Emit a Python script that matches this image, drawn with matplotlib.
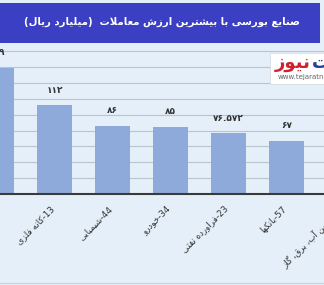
import matplotlib
matplotlib.use("Agg")
import matplotlib.pyplot as plt
from matplotlib.patches import Rectangle
from matplotlib.lines import Line2D

# ---------------- data ----------------
title_text = "صنایع بورسی با بیشترین ارزش معاملات  (میلیارد ریال)"
category_codes = ["27", "13", "44", "34", "23", "57", "40"]
category_names = ["فلزات اساسی", "کانه فلزی", "شیمیایی", "خودرو",
                  "فراورده نفتی", "بانکها", "تامین آب، برق، گاز"]
values = [159, 112, 86, 85, 76.572, 67, 60]
value_labels = ["۱۵۹", "۱۱۲", "۸۶", "۸۵", "۷۶.۵۷۲", "۶۷", "۶۰"]
grid_ticks = [20, 40, 60, 80, 100, 120, 140, 160, 180]

# ---------------- minimal Persian shaping ----------------
AR = {
    'ا': ('\uFE8D', '\uFE8E', None, None),
    'آ': ('\uFE81', '\uFE82', None, None),
    'ب': ('\uFE8F', '\uFE90', '\uFE91', '\uFE92'),
    'پ': ('\uFB56', '\uFB57', '\uFB58', '\uFB59'),
    'ت': ('\uFE95', '\uFE96', '\uFE97', '\uFE98'),
    'ج': ('\uFE9D', '\uFE9E', '\uFE9F', '\uFEA0'),
    'خ': ('\uFEA5', '\uFEA6', '\uFEA7', '\uFEA8'),
    'د': ('\uFEA9', '\uFEAA', None, None),
    'ر': ('\uFEAD', '\uFEAE', None, None),
    'ز': ('\uFEAF', '\uFEB0', None, None),
    'س': ('\uFEB1', '\uFEB2', '\uFEB3', '\uFEB4'),
    'ش': ('\uFEB5', '\uFEB6', '\uFEB7', '\uFEB8'),
    'ص': ('\uFEB9', '\uFEBA', '\uFEBB', '\uFEBC'),
    'ع': ('\uFEC9', '\uFECA', '\uFECB', '\uFECC'),
    'ف': ('\uFED1', '\uFED2', '\uFED3', '\uFED4'),
    'ق': ('\uFED5', '\uFED6', '\uFED7', '\uFED8'),
    'ک': ('\uFB8E', '\uFB8F', '\uFB90', '\uFB91'),
    'گ': ('\uFB92', '\uFB93', '\uFB94', '\uFB95'),
    'ل': ('\uFEDD', '\uFEDE', '\uFEDF', '\uFEE0'),
    'م': ('\uFEE1', '\uFEE2', '\uFEE3', '\uFEE4'),
    'ن': ('\uFEE5', '\uFEE6', '\uFEE7', '\uFEE8'),
    'ه': ('\uFEE9', '\uFEEA', '\uFEEB', '\uFEEC'),
    'و': ('\uFEED', '\uFEEE', None, None),
    'ی': ('\uFEEF', '\uFEF0', '\uFEF3', '\uFEF4'),
}


def _joins_left(c):
    return c in AR and AR[c][2] is not None


def shape(s):
    out = []
    i = 0
    n = len(s)
    while i < n:
        c = s[i]
        if c not in AR:
            out.append(c)
            i += 1
            continue
        prev = s[i - 1] if i > 0 else ''
        pj = _joins_left(prev)
        if c == 'ل' and i + 1 < n and s[i + 1] in 'اآ':
            lig = {'ا': ('\uFEFB', '\uFEFC'), 'آ': ('\uFEF5', '\uFEF6')}[s[i + 1]]
            out.append(lig[1] if pj else lig[0])
            i += 2
            continue
        nxt = s[i + 1] if i + 1 < n else ''
        nj = _joins_left(c) and nxt in AR
        f = AR[c]
        if pj and nj:
            g = f[3]
        elif pj:
            g = f[1]
        elif nj:
            g = f[2]
        else:
            g = f[0]
        out.append(g)
        i += 1
    return ''.join(out)


def rtl(s):
    return shape(s)[::-1].translate(str.maketrans('()', ')('))


plt.rcParams['font.family'] = ['DejaVu Sans']

W, H = 324, 285
DPI = 100
BG = '#e4eff9'
fig = plt.figure(figsize=(W / DPI, H / DPI), dpi=DPI, facecolor=BG)

# banner
fig.patches.append(Rectangle((0, (H - 43) / H), 320 / W, 40 / H,
                             transform=fig.transFigure, facecolor='#3b3fc4',
                             edgecolor='none', zorder=0))
fig.text(162 / W, 1 - 22 / H, rtl(title_text), color='white', fontsize=7.3,
         fontweight='bold', ha='center', va='center')

# axes
axis_y = 194
top_y = 43
ax = fig.add_axes([0, (H - axis_y) / H, 1, (axis_y - top_y) / H])
ax.set_facecolor(BG)
px_per_unit = 0.793
ax.set_ylim(0, (axis_y - top_y) / px_per_unit)
step = 58.0
x0 = -3.5 / step
ax.set_xlim(-x0, -x0 + W / step)

xs = list(range(len(values)))
for y in grid_ticks:
    ax.axhline(y, color='#b9c4cf', lw=0.8, zorder=1)
ax.bar(xs, values, width=0.595, color='#8eaadb', zorder=2)
for x, v, lab in zip(xs, values, value_labels):
    ax.text(x, v + 15 / px_per_unit, lab, ha='center', va='center',
            fontsize=6.5, fontweight='bold', color='#333333', zorder=3)

for s in ['top', 'left', 'right']:
    ax.spines[s].set_visible(False)
ax.spines['bottom'].set_color('#3a3a3a')
ax.spines['bottom'].set_linewidth(1.5)
ax.spines['bottom'].set_zorder(4)
ax.set_xticks([])
ax.set_yticks([])

for x, code, name in zip(xs, category_codes, category_names):
    ax.text(x + 0.03, -10 / px_per_unit, rtl(name) + '-' + code,
            rotation=45, ha='right', va='top',
            fontsize=6.3, color='#333333', clip_on=False)

# bottom line
fig.add_artist(Line2D([0, 1], [2 / H, 2 / H], transform=fig.transFigure,
                      color='#c8d2dc', lw=0.8))

# logo
fig.patches.append(Rectangle((270 / W, (H - 84) / H), 60 / W, 31 / H,
                             transform=fig.transFigure, facecolor='white',
                             edgecolor='#d8dde2', lw=0.6, zorder=5))
fig.text(311 / W, 1 - 63 / H, rtl("نیوز"), color='#d4202c', fontsize=13,
         fontweight='bold', ha='right', va='center', zorder=6)
fig.text(312 / W, 1 - 63 / H, rtl("تجارت"), color='#1f3f9a', fontsize=13,
         fontweight='bold', ha='left', va='center', zorder=6)
fig.text(278 / W, 1 - 77.5 / H, "www.tejaratnews.com", color='#666666',
         fontsize=5, ha='left', va='center', zorder=6)

fig.savefig('out.png', dpi=DPI, facecolor=BG)
